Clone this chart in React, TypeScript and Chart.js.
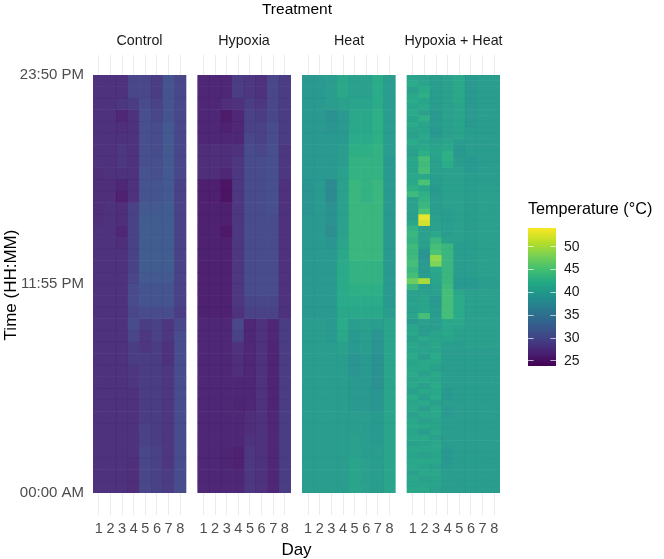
import React, { useEffect, useRef } from "react";
import { Chart, registerables } from "chart.js";

Chart.register(...registerables);

const days = ["1", "2", "3", "4", "5", "6", "7", "8"];
const treatments = ["Control", "Hypoxia", "Heat", "Hypoxia + Heat"];
const timeTickValues = [0, 715, 1430];
const timeTickLabels = ["00:00 AM", "11:55 PM", "23:50 PM"];
const legendTicks = [25, 30, 35, 40, 45, 50];

const controlRows = [
  [27.5, 27.5, 27.5, 29.5, 29.5, 28.5, 31, 29.5],
  [27.5, 27.5, 27.5, 29.5, 29.5, 28.5, 31, 29.5],
  [27.5, 27.5, 28, 28.5, 30, 29, 31, 29.5],
  [27.5, 27.5, 26.5, 27.5, 30.5, 29.5, 31, 29.5],
  [27.5, 27.5, 27, 27.5, 30.5, 30, 31.5, 29.5],
  [27.5, 27.5, 27.5, 27.5, 30.5, 30, 31.5, 29.5],
  [27.5, 27.5, 28, 27.5, 30.5, 30, 31.5, 29.5],
  [27.5, 27.5, 28, 27.5, 30.5, 30.5, 31.5, 29.5],
  [27, 27.5, 27.5, 27.5, 31, 30.5, 31.5, 29.5],
  [27, 27, 26.5, 27.5, 31, 31, 31.5, 29],
  [27, 27, 26, 27.5, 31, 31, 31.5, 29],
  [27, 27.5, 27, 29, 31.5, 31.5, 32, 29],
  [27, 27.5, 27, 29, 32, 32, 32, 29],
  [27.5, 27.5, 26.5, 29, 32, 32, 32, 29],
  [27.5, 27.5, 27, 29, 32, 32, 32, 29],
  [27.5, 27.5, 27.5, 29, 32, 32, 32, 29],
  [27.5, 27.5, 27.5, 29, 32, 32, 32, 29],
  [27.5, 27.5, 27.5, 29.5, 31.5, 31.5, 31.5, 29],
  [27.5, 27.5, 27.5, 30, 31, 31, 31, 29],
  [27.5, 27.5, 27.5, 30, 31, 31, 31, 29],
  [27.5, 27.5, 27.5, 29.5, 30, 30, 30, 28.5],
  [27.5, 27.5, 27.5, 30, 28.5, 29, 28, 29.5],
  [27.5, 27.5, 27.5, 29.5, 28, 29, 28, 30],
  [27.5, 27.5, 27.5, 28.5, 28, 28.5, 27.5, 30],
  [27.5, 27.5, 27.5, 28.5, 28.5, 28.5, 27.5, 30],
  [27.5, 27.5, 27.5, 28, 28.5, 28.5, 28, 30],
  [27.5, 27.5, 27.5, 28, 28.5, 28.5, 28, 30],
  [27.5, 27.5, 27.5, 27.5, 28.5, 28.5, 28, 30],
  [27.5, 27.5, 27.5, 27.5, 28.5, 28.5, 28, 30],
  [27.5, 27.5, 27.5, 27.5, 28.5, 28.5, 28, 30],
  [27.5, 27.5, 27.5, 27.5, 29, 28.5, 28, 30],
  [27.5, 27.5, 27.5, 27.5, 29, 28.5, 28, 30],
  [27.5, 27.5, 27.5, 27.5, 29.5, 29, 28, 30],
  [27.5, 27.5, 27.5, 27, 29.5, 29, 28, 30],
  [27.5, 27.5, 27.5, 27, 29.5, 29, 28.5, 30],
  [27.5, 27.5, 27.5, 27, 29.5, 29, 28.5, 30],
];

const hypoxiaRows = [
  [26.5, 26.5, 26.5, 28.5, 28, 27.5, 29.5, 28.5],
  [26.5, 26.5, 26.5, 28.5, 28, 27.5, 29.5, 28.5],
  [26.5, 26.5, 27, 27.5, 28.5, 28, 29.5, 28.5],
  [26.5, 26.5, 25.5, 26.5, 29, 28.5, 29.5, 28.5],
  [26.5, 26.5, 26, 26.5, 29, 29, 30, 28.5],
  [26.5, 26.5, 26.5, 26.5, 29.5, 29, 30, 28.5],
  [27, 27, 27, 27.5, 30, 29.5, 30.5, 28],
  [27, 27, 27, 28, 30, 30, 30.5, 28],
  [27, 27, 26.5, 28, 30, 30, 30.5, 28],
  [25.8, 25.8, 24.8, 28, 30, 30, 30.5, 27.5],
  [25.8, 25.8, 24.8, 28, 30, 30, 30.5, 27.5],
  [26, 26, 25.8, 28, 30, 30, 30.5, 27.5],
  [26, 26, 25.8, 28, 30, 30, 30, 27.5],
  [26, 26, 25.2, 28, 30, 30, 30, 27.5],
  [26, 26, 25.8, 28, 30, 30, 30, 27.5],
  [26, 26, 26, 28, 30, 30, 30, 27.5],
  [26, 26, 26, 28, 30, 30, 30, 27.5],
  [26, 26, 26, 28, 30, 30, 30, 27.5],
  [26, 26, 26, 28, 30, 30, 30, 27.5],
  [26, 26, 26, 28, 29.5, 29.5, 29.5, 27.5],
  [26, 26, 26, 27.5, 29, 29, 29, 27.5],
  [26.5, 26.5, 26.5, 29.5, 26.5, 27.5, 26.5, 28.5],
  [26.5, 26.5, 26.5, 29, 26.5, 27.5, 26.5, 28.5],
  [26.5, 26.5, 26.5, 27.5, 26.5, 27.5, 26.2, 28.5],
  [26.5, 26.5, 26.5, 27, 26.5, 27.5, 26.2, 28.5],
  [26.5, 26.5, 26.5, 27, 26.5, 27.5, 26.2, 28.5],
  [26.5, 26.5, 26.5, 26.5, 26.5, 27.5, 26.2, 28.5],
  [26.5, 26.5, 26.5, 26.5, 26.5, 27.5, 26.2, 28.5],
  [26.5, 26.5, 26.5, 26.2, 26.5, 27.5, 26.2, 28.5],
  [26.5, 26.5, 26.5, 26.5, 27, 27.5, 26.5, 28.5],
  [26.5, 26.5, 26.5, 26.5, 27, 27.5, 26.5, 28.5],
  [26.5, 26.5, 26.5, 26.5, 27.5, 27.5, 26.5, 28.5],
  [26.5, 26.5, 26.2, 26, 28, 27.5, 26.5, 28.5],
  [26.5, 26.5, 26.2, 26, 28, 27.5, 26.5, 28.5],
  [26.5, 26.5, 26.5, 26.5, 28, 27.5, 26.5, 28.5],
  [26.5, 26.5, 26.5, 26.5, 28, 27.5, 26.5, 28.5],
];

const heatRows = [
  [39.5, 39.5, 40, 41.5, 40.5, 40.5, 42, 40],
  [39.5, 39.5, 40, 41.5, 40.5, 40.5, 42, 40],
  [39.5, 39.5, 40, 40.5, 41, 41, 42, 40],
  [39.5, 39.5, 38.5, 39.5, 41.5, 41.5, 42.5, 40],
  [39.5, 39.5, 39, 39.5, 41.5, 41.5, 42.5, 40],
  [39.5, 39.5, 39.5, 39.5, 42, 42, 42.5, 40],
  [39.5, 39.5, 39.5, 40, 42.5, 42.5, 43, 40],
  [39.5, 39.5, 39.5, 40, 43, 43, 43, 39.5],
  [39.5, 39.5, 39.5, 40.5, 43, 43, 43, 39.5],
  [39, 39.5, 37.5, 40.5, 43.5, 43, 43.5, 39.5],
  [39, 39.5, 37.5, 40.5, 43.5, 43, 43.5, 39.5],
  [39, 39.5, 38.5, 40.5, 43.5, 43.5, 43.5, 39.5],
  [39.5, 39.5, 38.5, 40.5, 43.5, 43.5, 43.5, 39.5],
  [39.5, 39.5, 38, 40.5, 43.5, 43.5, 43.5, 39.5],
  [39.5, 39.5, 39, 41, 43.5, 43.5, 43.5, 39.5],
  [39.5, 39.5, 39.5, 41.5, 43.5, 43.5, 43.5, 39.5],
  [39.5, 39.5, 39.5, 42, 43, 43, 43, 39.5],
  [39.5, 39.5, 39.5, 42, 43, 43, 43, 39.5],
  [39.5, 39.5, 39.5, 42, 42.5, 42.5, 42.5, 39.5],
  [39.5, 39.5, 39.5, 42, 42, 42, 42, 39.5],
  [39.5, 39.5, 39.5, 41.5, 41.5, 41.5, 41.5, 40],
  [40, 40, 39.5, 42, 40, 40.5, 40, 41],
  [40, 40, 39.5, 41.5, 39.5, 40, 39, 41],
  [40, 40, 40, 40.5, 39.5, 40, 39, 41],
  [40, 40, 40, 40, 39, 39.5, 38.5, 41],
  [40, 40, 40, 40, 39, 39.5, 38.5, 41],
  [40, 40, 40, 40, 39.5, 39.5, 38.5, 41],
  [40, 40, 40, 40, 39.5, 39.5, 39, 41],
  [40, 40, 40, 40, 39.5, 39.5, 39, 41],
  [40, 40, 40, 40, 40, 40, 39.5, 41],
  [40, 40, 40, 40, 40, 40, 39.5, 41],
  [40, 40, 40, 40, 40.5, 40, 39.5, 41],
  [40, 40, 40, 40, 40.5, 40, 40, 41],
  [40, 40, 40, 40, 41, 40.5, 40, 41],
  [40, 40, 40, 40, 41, 40.5, 40, 41],
  [40, 40, 40, 40, 41, 40.5, 40, 41],
];

const hypoxiaHeatRows = [
  [41, 40.5, 40, 40.5, 41.5, 39.5, 40, 40],
  [42, 41, 40, 40.5, 41.5, 39.5, 40, 40],
  [40.5, 42, 40, 40.5, 41.5, 39.5, 40, 40],
  [41.5, 42.5, 40, 40.5, 41.5, 39.5, 40, 40],
  [42, 41, 40, 40.5, 41.5, 39.5, 40, 40],
  [41, 41.5, 40, 40.5, 41, 39.5, 40, 40],
  [42, 40.5, 39.5, 40.5, 41, 39.5, 40, 40],
  [41, 42.5, 39.5, 40.5, 41, 39.5, 40, 40],
  [42, 41, 40, 40.5, 41, 39.5, 40, 40],
  [41, 41, 39.5, 40.5, 41, 40, 40, 40],
  [40.5, 41.5, 39.5, 40.5, 41, 40, 40, 40],
  [42, 41, 40.5, 41, 40, 40, 40, 40],
  [41, 41.5, 41, 41.5, 39.5, 40, 40, 40],
  [40.5, 42.5, 41, 42.5, 39.5, 40, 40, 40],
  [41.5, 44.5, 40.5, 42.5, 40, 39.5, 40, 40],
  [41, 44, 40.5, 42, 40, 39.5, 40, 40],
  [41, 44.5, 40.5, 40.5, 40.5, 39.5, 40, 40],
  [41.5, 41.5, 40, 40.5, 40.5, 40, 40, 40],
  [41.5, 45, 40, 40.5, 40.5, 40, 40, 40],
  [42.5, 41.5, 39.5, 40.5, 40.5, 40, 40.5, 40.5],
  [44, 42.5, 39.5, 40.5, 40.5, 40, 40.5, 40.5],
  [40.5, 43, 40, 40.5, 40.5, 40, 40.5, 40.5],
  [40.5, 43.5, 40, 40.5, 40.5, 40, 40.5, 40.5],
  [40.5, 45, 40, 40, 40.5, 40, 40.5, 40.5],
  [40.5, 53, 40.5, 40, 40.5, 40, 40.5, 40.5],
  [41.5, 52, 40.5, 40, 40.5, 40, 40.5, 40.5],
  [43, 40.5, 40.5, 40, 40.5, 40, 40.5, 40.5],
  [43.5, 40.5, 41.5, 40, 40.5, 40, 40.5, 40.5],
  [43, 40.5, 43.5, 40.5, 40.5, 40, 40.5, 40.5],
  [44, 40.5, 44.5, 43.5, 40, 40, 40.5, 40.5],
  [43.5, 39, 45, 43.5, 40, 40, 40.5, 40.5],
  [44, 39, 49, 43.5, 40, 40, 40.5, 40.5],
  [44.5, 39.5, 48, 43.5, 40, 40, 40.5, 40.5],
  [43.5, 39.5, 41.5, 43.5, 40, 40, 40.5, 40.5],
  [44.5, 40, 41, 43.5, 40, 40, 40.5, 40.5],
  [47, 50, 41, 43.5, 39.5, 39.5, 40, 40],
  [43.5, 40, 40.5, 44, 39.5, 39.5, 40, 40],
  [40.5, 40.5, 40.5, 44.5, 41.5, 40.5, 40.5, 40.5],
  [40.5, 41, 39.5, 44.5, 42, 40.5, 40.5, 40.5],
  [41, 41, 39.5, 44.5, 42, 40.5, 40.5, 40.5],
  [40.5, 41, 40, 44.5, 42, 40.5, 40.5, 40.5],
  [41, 44.5, 40, 44.5, 42, 40.5, 40.5, 40.5],
  [39.5, 40.5, 40, 41.5, 41.5, 40.5, 40.5, 40.5],
  [41, 40, 40, 41.5, 41, 40.5, 40.5, 40.5],
  [41.5, 40, 41, 41.5, 40.5, 40.5, 40.5, 40.5],
  [40.5, 41.5, 41, 41, 40.5, 40.5, 40.5, 40.5],
  [41.5, 40.5, 41.5, 40, 40, 40.5, 40.5, 40.5],
  [41, 41, 41, 40, 40, 40, 40, 40],
  [42, 40, 42, 40, 40, 40, 40, 40],
  [41, 41.5, 41.5, 40, 40, 40, 40, 40],
  [41.5, 41.5, 40.5, 40, 40, 40, 40, 40],
  [42, 40.5, 41.5, 40, 40, 40, 40, 40],
  [41, 41.5, 41, 40, 40, 40, 40, 40],
  [41.5, 40.5, 42, 40, 40, 40, 40, 40],
  [40.5, 41.5, 41.5, 39.5, 40, 40, 40, 40],
  [42, 40.5, 42, 39.5, 40, 40, 40, 40],
  [41, 41.5, 40.5, 40, 40, 40, 40, 40],
  [41.5, 40, 41.5, 39.5, 40, 40, 40, 40],
  [40.5, 41.5, 41.5, 39.5, 40, 40, 40, 40],
  [41.5, 40.5, 41, 40, 40, 40, 40, 40],
  [42, 41.5, 41, 40, 40, 40, 40, 40],
  [41, 40, 41.5, 40, 40, 40, 40, 40],
  [41.5, 41.5, 40.5, 40, 40, 40, 40, 40],
  [40.5, 41, 41.5, 40, 40, 40, 40, 40],
  [41.5, 41.5, 41.5, 39.5, 40, 40, 40, 40],
  [41, 40.5, 41, 39.5, 40, 40, 40, 40],
  [41.5, 41.5, 41.5, 39.5, 40, 40, 40, 40],
  [41.5, 41, 40.5, 39.5, 40, 40, 40, 40],
  [40.5, 41.5, 41.5, 40, 40, 40, 40, 40],
  [41.5, 40.5, 41, 40, 40, 40, 40, 40],
  [41, 41, 41, 40, 40, 40, 40, 40],
  [41.5, 41.5, 40.5, 40, 40, 40, 40, 40],
];

const panels = [controlRows, hypoxiaRows, heatRows, hypoxiaHeatRows];

const viridisStops = [
  [68, 1, 84], [72, 36, 117], [65, 68, 135], [53, 95, 141], [42, 120, 142],
  [33, 145, 140], [34, 168, 132], [68, 191, 112], [122, 209, 81], [189, 223, 38], [253, 231, 37],
];
const colorMin = 23.9;
const colorMax = 54.1;
const tileMinute = 1430;

function viridis(v: number, alpha = 1) {
  const t = Math.min(1, Math.max(0, (v - colorMin) / (colorMax - colorMin))) * (viridisStops.length - 1);
  const i = Math.min(viridisStops.length - 2, Math.floor(t));
  const f = t - i;
  const c = viridisStops[i].map((a, k) => Math.round(a + (viridisStops[i + 1][k] - a) * f));
  return `rgba(${c[0]},${c[1]},${c[2]},${alpha})`;
}

const xLabels: string[] = [];
panels.forEach((_, p) => {
  if (p > 0) xLabels.push("");
  xLabels.push(...days);
});

function buildTileDatasets() {
  const sets: any[] = [];
  panels.forEach((rows, p) => {
    const start = p * (days.length + 1);
    const h = tileMinute / rows.length;
    rows.forEach((row, r) => {
      const data: any[] = xLabels.map(() => null);
      const colors: string[] = xLabels.map(() => "transparent");
      const lo = tileMinute - (r + 1) * h;
      row.forEach((v, d) => {
        data[start + d] = [lo, lo + h + (r === 0 ? 0 : 1.6)];
        colors[start + d] = viridis(v, 0.96);
      });
      sets.push({ data, backgroundColor: colors, borderWidth: 0, barPercentage: 1.05, categoryPercentage: 1 });
    });
  });
  return sets;
}

const legendSteps: number[] = [];
for (let v = colorMin; v < colorMax; v += 0.5) legendSteps.push(v);

const fontFamily = '"Liberation Sans", Arial, sans-serif';
const textStyle = (left: number, top: number, size: number, color: string, extra: any = {}) => ({
  position: "absolute" as const,
  left,
  top,
  fontFamily,
  fontSize: size,
  color,
  whiteSpace: "nowrap" as const,
  lineHeight: "1",
  ...extra,
});

const panelCenters = [139.5, 244, 349, 453.5];

export default function App() {
  const mainRef = useRef<HTMLCanvasElement>(null);
  const legendRef = useRef<HTMLCanvasElement>(null);

  useEffect(() => {
    const main = new Chart(mainRef.current!, {
      type: "bar",
      data: { labels: xLabels, datasets: buildTileDatasets() },
      options: {
        animation: false,
        responsive: false,
        layout: { padding: { left: 0, top: 55, right: 164, bottom: 0 } },
        plugins: { legend: { display: false }, tooltip: { enabled: false }, title: { display: false } },
        scales: {
          x: {
            type: "category",
            stacked: true,
            grid: {
              offset: false,
              drawTicks: false,
              lineWidth: 1,
              color: (ctx: any) => (xLabels[ctx.index] === "" ? "transparent" : "#ebebeb"),
            },
            border: { display: false },
            ticks: {
              autoSkip: false,
              maxRotation: 0,
              padding: 5,
              color: "#4d4d4d",
              font: { family: fontFamily, size: 14.5 },
            },
            title: { display: true, text: "Day", color: "#000", font: { family: fontFamily, size: 17 }, padding: { top: 3, bottom: -2 } },
            afterFit: (s: any) => { s.height = 44; },
          },
          y: {
            type: "linear",
            min: -75.3,
            max: 1498.4,
            grid: { display: false, drawTicks: false },
            border: { display: false },
            afterBuildTicks: (s: any) => { s.ticks = timeTickValues.map((value) => ({ value })); },
            ticks: {
              padding: 9,
              color: "#4d4d4d",
              font: { family: fontFamily, size: 15 },
              callback: (v: any) => timeTickLabels[timeTickValues.indexOf(Number(v))] ?? "",
            },
            title: { display: true, text: "Time (HH:MM)", color: "#000", font: { family: fontFamily, size: 17 }, padding: { top: 1, bottom: 0 } },
            afterFit: (s: any) => { s.width = 93; },
          },
        },
      },
    } as any);

    const legend = new Chart(legendRef.current!, {
      type: "bar",
      data: {
        labels: ["Temperature"],
        datasets: legendSteps.map((v) => ({
          data: [[v, v + 0.55]],
          backgroundColor: viridis(v + 0.25),
          borderWidth: 0,
          barPercentage: 1,
          categoryPercentage: 1,
        })),
      },
      options: {
        animation: false,
        responsive: false,
        layout: { padding: 0 },
        plugins: { legend: { display: false }, tooltip: { enabled: false } },
        scales: {
          x: { stacked: true, display: false },
          y: {
            position: "right",
            min: colorMin,
            max: colorMax,
            afterBuildTicks: (s: any) => { s.ticks = legendTicks.map((value) => ({ value })); },
            grid: { z: 1, drawTicks: false, color: "rgba(255,255,255,0.65)", lineWidth: 1 },
            border: { display: false, dash: [5.6, 16.8, 5.6, 0] },
            ticks: { padding: 8, color: "#1a1a1a", font: { family: fontFamily, size: 14 } },
            afterFit: (s: any) => {
              s.width = 40;
              s.paddingTop = 0;
              s.paddingBottom = 0;
            },
          },
        },
      },
    } as any);

    return () => {
      main.destroy();
      legend.destroy();
    };
  }, []);

  return (
    <div style={{ position: "absolute", left: 0, top: 0, width: 664, height: 559, overflow: "hidden", background: "#fff" }}>
      <canvas ref={mainRef} width={664} height={559} style={{ position: "absolute", left: 0, top: 0 }} />
      <canvas ref={legendRef} width={68} height={138} style={{ position: "absolute", left: 528, top: 228 }} />
      <div style={textStyle(297, 1, 15.5, "#000", { transform: "translateX(-50%)" })}>Treatment</div>
      {treatments.map((t, i) => (
        <div key={t} style={textStyle(panelCenters[i], 33, 14.3, "#1a1a1a", { transform: "translateX(-50%)" })}>{t}</div>
      ))}
      <div style={textStyle(528, 200, 16.2, "#000")}>Temperature (°C)</div>
    </div>
  );
}
